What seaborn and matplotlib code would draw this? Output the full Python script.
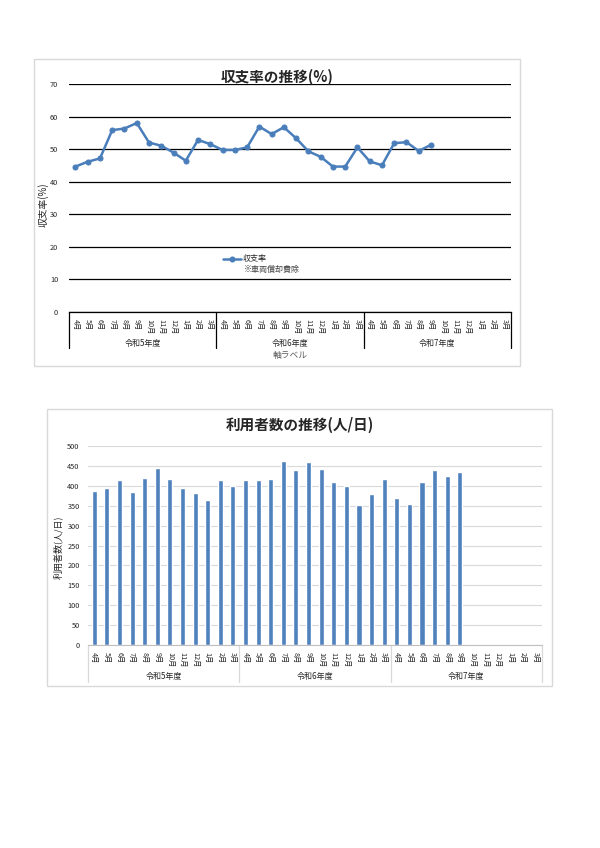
import pandas as pd
import seaborn as sns
import matplotlib.pyplot as plt
from matplotlib.patches import Rectangle

# months of a fiscal year (April start) and the three fiscal years
months = ["4月", "5月", "6月", "7月", "8月", "9月", "10月", "11月", "12月", "1月", "2月", "3月"]
years = ["令和5年度", "令和6年度", "令和7年度"]

# 収支率 (%) R5.4 - R7.9
ratio = [44.7, 46.2, 47.2, 55.9, 56.4, 58.1, 52.1, 51.1, 49.0, 46.5, 52.9, 51.6,
         49.8, 49.8, 50.6, 57.0, 54.7, 56.8, 53.4, 49.4, 47.7, 44.7, 44.7, 50.6,
         46.3, 45.1, 51.9, 52.2, 49.5, 51.4]

# 利用者数 (人/日) R5.4 - R7.9
users = [387, 395, 413, 384, 418, 445, 416, 395, 382, 363, 413, 399,
         413, 415, 417, 462, 438, 459, 441, 409, 399, 352, 380, 416,
         369, 353, 410, 439, 424, 435]

ncat = len(months) * len(years)
cat_labels = months * len(years)

sns.set_style("white")
plt.rcParams['font.family'] = ['Noto Sans CJK JP', 'DejaVu Sans']

blue = "#4A7EBB"
fig = plt.figure(figsize=(6, 8.48), dpi=100)

# chart frames
fig.patches.append(Rectangle((0.0567, 0.5684), 0.81, 0.362, transform=fig.transFigure,
                             fill=False, edgecolor="#D9D9D9", linewidth=1))
fig.patches.append(Rectangle((0.0783, 0.1910), 0.8417, 0.3267, transform=fig.transFigure,
                             fill=False, edgecolor="#D9D9D9", linewidth=1))


def category_axis(ax, color, sep_depth, label_y):
    ax.set_xlim(-0.5, ncat - 0.5)
    ax.set_xticks(range(ncat))
    ax.set_xticklabels(cat_labels, rotation=-90, fontsize=5.2, va="top")
    ax.tick_params(axis="x", length=0, pad=5)
    trans = ax.get_xaxis_transform()
    for g in range(len(years) + 1):
        xb = g * len(months) - 0.5
        ax.plot([xb, xb], [0, -sep_depth], color=color, lw=0.9, transform=trans, clip_on=False)
    for g, name in enumerate(years):
        xc = g * len(months) + (len(months) - 1) / 2
        ax.text(xc, label_y, name, transform=trans, ha="center", va="center", fontsize=5.8)


# ---- 収支率の推移 ----
ax1 = fig.add_axes([0.1155, 0.6321, 0.7357, 0.2685])
df1 = pd.DataFrame({"idx": range(len(ratio)), "収支率": ratio})
sns.lineplot(data=df1, x="idx", y="収支率", ax=ax1, color=blue, lw=1.8,
             marker="o", markersize=3.6, markeredgecolor=blue, label="収支率")
ax1.set_ylim(0, 70)
ax1.set_yticks(range(0, 71, 10))
ax1.yaxis.grid(True, color="black", lw=0.9)
ax1.tick_params(axis="y", length=0, labelsize=5.3, pad=8)
for s in ["left", "right", "top"]:
    ax1.spines[s].set_visible(False)
ax1.spines["bottom"].set_color("black")
ax1.spines["bottom"].set_linewidth(0.9)
category_axis(ax1, "black", 0.158, -0.136)
ax1.set_xlabel("")
ax1.text(0.5, -0.19, "軸ラベル", transform=ax1.transAxes, ha="center", va="center",
         fontsize=6.3, color="#595959")
ax1.set_ylabel("収支率(%)", fontsize=7, labelpad=5)
ax1.yaxis.set_label_coords(-0.047, 0.47)
leg = ax1.legend(loc="center left", bbox_to_anchor=(0.34, 0.233), frameon=False,
                 fontsize=5.8, handlelength=2.2, handletextpad=0.2, borderpad=0)
ax1.text(0.395, 0.185, "※車両償却費除", transform=ax1.transAxes, ha="left", va="center",
         fontsize=5.8, color="#404040")
fig.text(0.4617, 1 - 77 / 848, "収支率の推移(%)", ha="center", va="center",
         fontsize=10.5, fontweight="bold")

# ---- 利用者数の推移 ----
ax2 = fig.add_axes([0.1467, 0.2390, 0.7562, 0.2354])
df2 = pd.DataFrame({"idx": range(len(users)), "利用者数": users})
sns.barplot(data=df2, x="idx", y="利用者数", order=list(range(ncat)), ax=ax2,
            color="#4F81BD", saturation=1, width=0.4)
ax2.set_ylim(0, 500)
ax2.set_yticks(range(0, 501, 50))
ax2.yaxis.grid(True, color="#D9D9D9", lw=0.8)
ax2.set_axisbelow(True)
ax2.tick_params(axis="y", length=0, labelsize=5.3, pad=6)
for s in ["left", "right", "top"]:
    ax2.spines[s].set_visible(False)
ax2.spines["bottom"].set_color("#BFBFBF")
ax2.spines["bottom"].set_linewidth(0.8)
category_axis(ax2, "#D9D9D9", 0.184, -0.154)
ax2.set_xlabel("")
ax2.set_ylabel("利用者数(人/日)", fontsize=6.5, labelpad=5)
ax2.yaxis.set_label_coords(-0.055, 0.49)
fig.text(0.4992, 1 - 425 / 848, "利用者数の推移(人/日)", ha="center", va="center",
         fontsize=10.5, fontweight="bold")

fig.savefig("out.png", dpi=100, facecolor="white")
